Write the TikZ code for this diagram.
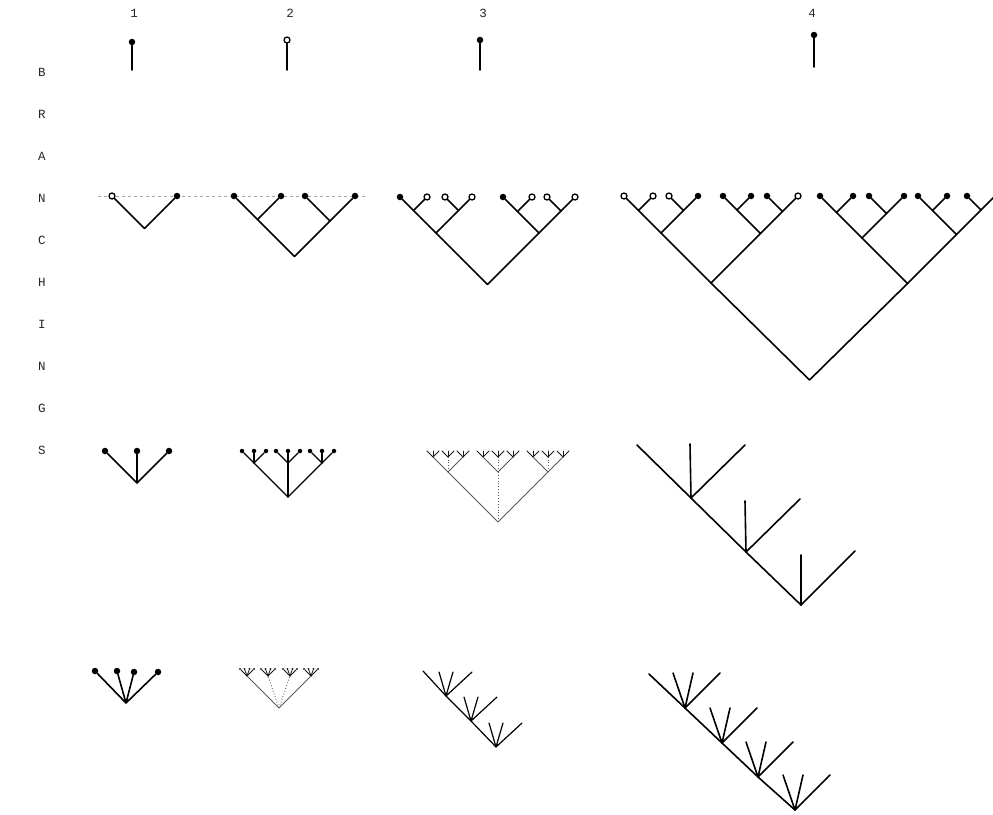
\documentclass[tikz,border=0pt]{standalone}
\usepackage{fontspec}
\setmonofont{Liberation Mono}
\begin{document}
\begin{tikzpicture}[x=1pt,y=-1pt]
\tikzset{
  br/.style={line width=1.6pt, line cap=round, line join=round},
  mbr/.style={line width=1.2pt, line cap=round, line join=round},
  fl/.style={circle, fill=black, inner sep=0pt, minimum size=6.5pt},
  sfl/.style={circle, fill=black, inner sep=0pt, minimum size=4.5pt},
  op/.style={circle, draw=black, line width=1.3pt, fill=white, inner sep=0pt, minimum size=6pt},
  faintline/.style={line width=0.9pt, black!65, line cap=round},
  dotline/.style={line width=0.9pt, black!65, dotted},
  tinyline/.style={line width=0.8pt, black!90, line cap=round},
  guide/.style={line width=0.6pt, black!35, dashed},
  lab/.style={font=\ttfamily\fontsize{12.5}{12.5}\selectfont, text=black!85},
}
\useasboundingbox (0,0) rectangle (993,814);
\clip (0,0) rectangle (993,814);

% ---------- side letters ----------
\foreach \l/\y [count=\c] in {B/72,R/114,A/156,N/198,C/240,H/282,I/324,N/366,G/408,S/450}{
  \node[lab] (side\c) at (42,\y) {\l};
}

% ---------- numbers and pins ----------
\node[lab] (n1) at (134,13) {1};
\node[lab] (n2) at (290,13) {2};
\node[lab] (n3) at (483,13) {3};
\node[lab] (n4) at (812,13) {4};

\node[fl] (p1) at (132,42) {};  \coordinate (p1b) at (132,70);
\node[op] (p2) at (287,40) {};  \coordinate (p2b) at (287,70);
\node[fl] (p3) at (480,40) {};  \coordinate (p3b) at (480,70);
\node[fl] (p4) at (814,35) {};  \coordinate (p4b) at (814,67);
\draw[br] (p1) -- (p1b);
\draw[br] (p2) -- (p2b);
\draw[br] (p3) -- (p3b);
\draw[br] (p4) -- (p4b);

% ---------- row 1 : binary branching ----------
\coordinate (g1) at (98,196); \coordinate (g2) at (367,196);
\draw[guide] (g1) -- (g2);

% tree 1
\coordinate (a0) at (144.5,228.5);
\node[op] (a1) at (112,196) {};
\node[fl] (a2) at (177,196) {};
\draw[br] (a1) -- (a0) -- (a2);

% tree 2
\node[fl] (b1) at (234,196) {};
\node[fl] (b2) at (281,196) {};
\node[fl] (b3) at (305,196) {};
\node[fl] (b4) at (355,196) {};
\coordinate (b12) at (257.5,219.5);
\coordinate (b34) at (330,221);
\coordinate (b0) at (294.5,256.5);
\draw[br] (b1) -- (b12) -- (b0) -- (b34) -- (b4);
\draw[br] (b12) -- (b2);
\draw[br] (b34) -- (b3);

% tree 3
\node[fl] (c1) at (400,197) {};
\node[op] (c2) at (427,197) {};
\node[op] (c3) at (445,197) {};
\node[op] (c4) at (472,197) {};
\node[fl] (c5) at (503,197) {};
\node[op] (c6) at (532,197) {};
\node[op] (c7) at (547,197) {};
\node[op] (c8) at (575,197) {};
\coordinate (c12) at (413.5,210.5);
\coordinate (c34) at (458.5,210.5);
\coordinate (c56) at (517.5,211.5);
\coordinate (c78) at (561,211);
\coordinate (c14) at (436,233);
\coordinate (c58) at (539,233);
\coordinate (c0) at (487.5,284.5);
\draw[br] (c1) -- (c12) -- (c14) -- (c0) -- (c58) -- (c78) -- (c8);
\draw[br] (c12) -- (c2);
\draw[br] (c14) -- (c34) -- (c4);
\draw[br] (c34) -- (c3);
\draw[br] (c58) -- (c56) -- (c5);
\draw[br] (c56) -- (c6);
\draw[br] (c78) -- (c7);

% tree 4
\node[op] (L1) at (624,196) {};
\node[op] (L2) at (653,196) {};
\node[op] (L3) at (669,196) {};
\node[fl] (L4) at (698,196) {};
\node[fl] (L5) at (723,196) {};
\node[fl] (L6) at (751,196) {};
\node[fl] (L7) at (767,196) {};
\node[op] (L8) at (798,196) {};
\node[fl] (L9) at (820,196) {};
\node[fl] (L10) at (853,196) {};
\node[fl] (L11) at (869,196) {};
\node[fl] (L12) at (904,196) {};
\node[fl] (L13) at (918,196) {};
\node[fl] (L14) at (947,196) {};
\node[fl] (L15) at (967,196) {};
\coordinate (L16) at (997,194);
\coordinate (P1) at (638.5,210.5);
\coordinate (P2) at (683.5,210.5);
\coordinate (P3) at (737,210);
\coordinate (P4) at (782.5,211.5);
\coordinate (P5) at (836.5,212.5);
\coordinate (P6) at (886.5,213.5);
\coordinate (P7) at (932.5,210.5);
\coordinate (P8) at (981,210);
\coordinate (Q1) at (661,233);
\coordinate (Q2) at (760.5,233.5);
\coordinate (Q3) at (862,238);
\coordinate (Q4) at (956.5,234.5);
\coordinate (R1) at (711,283);
\coordinate (R2) at (907.5,283.5);
\coordinate (T0) at (809.5,380);
\draw[br] (T0) -- (R1) (T0) -- (R2);
\draw[br] (R1) -- (Q1) (R1) -- (Q2) (R2) -- (Q3) (R2) -- (Q4);
\draw[br] (Q1) -- (P1) (Q1) -- (P2) (Q2) -- (P3) (Q2) -- (P4);
\draw[br] (Q3) -- (P5) (Q3) -- (P6) (Q4) -- (P7) (Q4) -- (P8);
\draw[br] (P1) -- (L1) (P1) -- (L2) (P2) -- (L3) (P2) -- (L4);
\draw[br] (P3) -- (L5) (P3) -- (L6) (P4) -- (L7) (P4) -- (L8);
\draw[br] (P5) -- (L9) (P5) -- (L10) (P6) -- (L11) (P6) -- (L12);
\draw[br] (P7) -- (L13) (P7) -- (L14) (P8) -- (L15) (P8) -- (L16);

% ---------- row 2 : ternary branching ----------
% tree 1
\coordinate (d0) at (137,483);
\node[fl] (d1) at (105,451) {};
\node[fl] (d2) at (137,451) {};
\node[fl] (d3) at (169,451) {};
\draw[br] (d0) -- (d1) (d0) -- (d2) (d0) -- (d3);

% tree 2
\coordinate (e0) at (288,497);
\foreach \i/\x in {1/254,2/288,3/322}{
  \coordinate (e\i) at (\x,463);
  \foreach \k/\dx in {1/-12,2/0,3/12}{
    \pgfmathsetmacro{\xx}{\x+\dx}
    \node[sfl] (e\i\k) at (\xx,451) {};
    \draw[mbr] (e\i) -- (e\i\k);
  }
  \draw[mbr] (e0) -- (e\i);
}

% tree 3 (faint)
\coordinate (f0) at (498,522);
\foreach \i/\x in {1/448,2/498,3/548}{
  \coordinate (f\i) at (\x,472);
  \foreach \j/\dx in {1/-15,2/0,3/15}{
    \pgfmathsetmacro{\xx}{\x+\dx}
    \coordinate (f\i\j) at (\xx,457);
    \foreach \k/\ex in {1/-6,2/0,3/6}{
      \pgfmathsetmacro{\xxx}{\xx+\ex}
      \coordinate (f\i\j\k) at (\xxx,451);
      \draw[tinyline] (f\i\j) -- (f\i\j\k);
    }
  }
  \draw[faintline] (f\i) -- (f\i1) (f\i) -- (f\i3);
  \draw[dotline] (f\i) -- (f\i2);
}
\draw[faintline] (f0) -- (f1) (f0) -- (f3);
\draw[dotline] (f0) -- (f2);

% tree 4 (comb)
\coordinate (h0) at (637,445);
\coordinate (h1) at (691,498);
\coordinate (h2) at (746,552);
\coordinate (h3) at (801,605);
\coordinate (h1v) at (690,444);
\coordinate (h2v) at (745,501);
\coordinate (h3v) at (801,555);
\coordinate (h1r) at (745,445);
\coordinate (h2r) at (800,499);
\coordinate (h3r) at (855,551);
\draw[br] (h0) -- (h1) -- (h2) -- (h3);
\draw[br] (h1) -- (h1v) (h2) -- (h2v) (h3) -- (h3v);
\draw[br] (h1) -- (h1r) (h2) -- (h2r) (h3) -- (h3r);

% ---------- row 3 : four-fold branching ----------
% tree 1
\coordinate (i0) at (126,703);
\node[fl] (i1) at (95,671) {};
\node[fl] (i2) at (117,671) {};
\node[fl] (i3) at (134,672) {};
\node[fl] (i4) at (158,672) {};
\draw[br] (i0) -- (i1) (i0) -- (i2) (i0) -- (i3) (i0) -- (i4);

% tree 2 (faint)
\coordinate (j0) at (279,708);
\foreach \i/\x in {1/247,2/268,3/290,4/311}{
  \coordinate (j\i) at (\x,676);
  \foreach \k/\dx in {1/-7,2/-2.5,3/2.5,4/7}{
    \pgfmathsetmacro{\xx}{\x+\dx}
    \node[circle, fill=black!85, inner sep=0pt, minimum size=2.4pt] (j\i\k) at (\xx,669) {};
    \draw[tinyline] (j\i) -- (j\i\k);
  }
}
\draw[faintline] (j0) -- (j1) (j0) -- (j4);
\draw[dotline] (j0) -- (j2) (j0) -- (j3);

% tree 3 (comb)
\coordinate (k0) at (423,671);
\coordinate (k1) at (446,696);
\coordinate (k2) at (471,721);
\coordinate (k3) at (496,747);
\draw[mbr] (k0) -- (k1) -- (k2) -- (k3);
\foreach \i in {1,2,3}{
  \coordinate (k\i a) at ([shift={(-7,-24)}]k\i);
  \coordinate (k\i b) at ([shift={(7,-24)}]k\i);
  \coordinate (k\i c) at ([shift={(26,-24)}]k\i);
  \draw[mbr] (k\i) -- (k\i a) (k\i) -- (k\i b) (k\i) -- (k\i c);
}

% tree 4 (comb)
\coordinate (m0) at (649,674);
\coordinate (m1) at (685,708);
\coordinate (m2) at (722,743);
\coordinate (m3) at (758,777);
\coordinate (m4) at (795,810);
\draw[br] (m0) -- (m1) -- (m2) -- (m3) -- (m4);
\foreach \i in {1,2,3,4}{
  \coordinate (m\i a) at ([shift={(-12,-35)}]m\i);
  \coordinate (m\i b) at ([shift={(8,-35)}]m\i);
  \coordinate (m\i c) at ([shift={(35,-35)}]m\i);
  \draw[br] (m\i) -- (m\i a) (m\i) -- (m\i b) (m\i) -- (m\i c);
}
\end{tikzpicture}
\end{document}
